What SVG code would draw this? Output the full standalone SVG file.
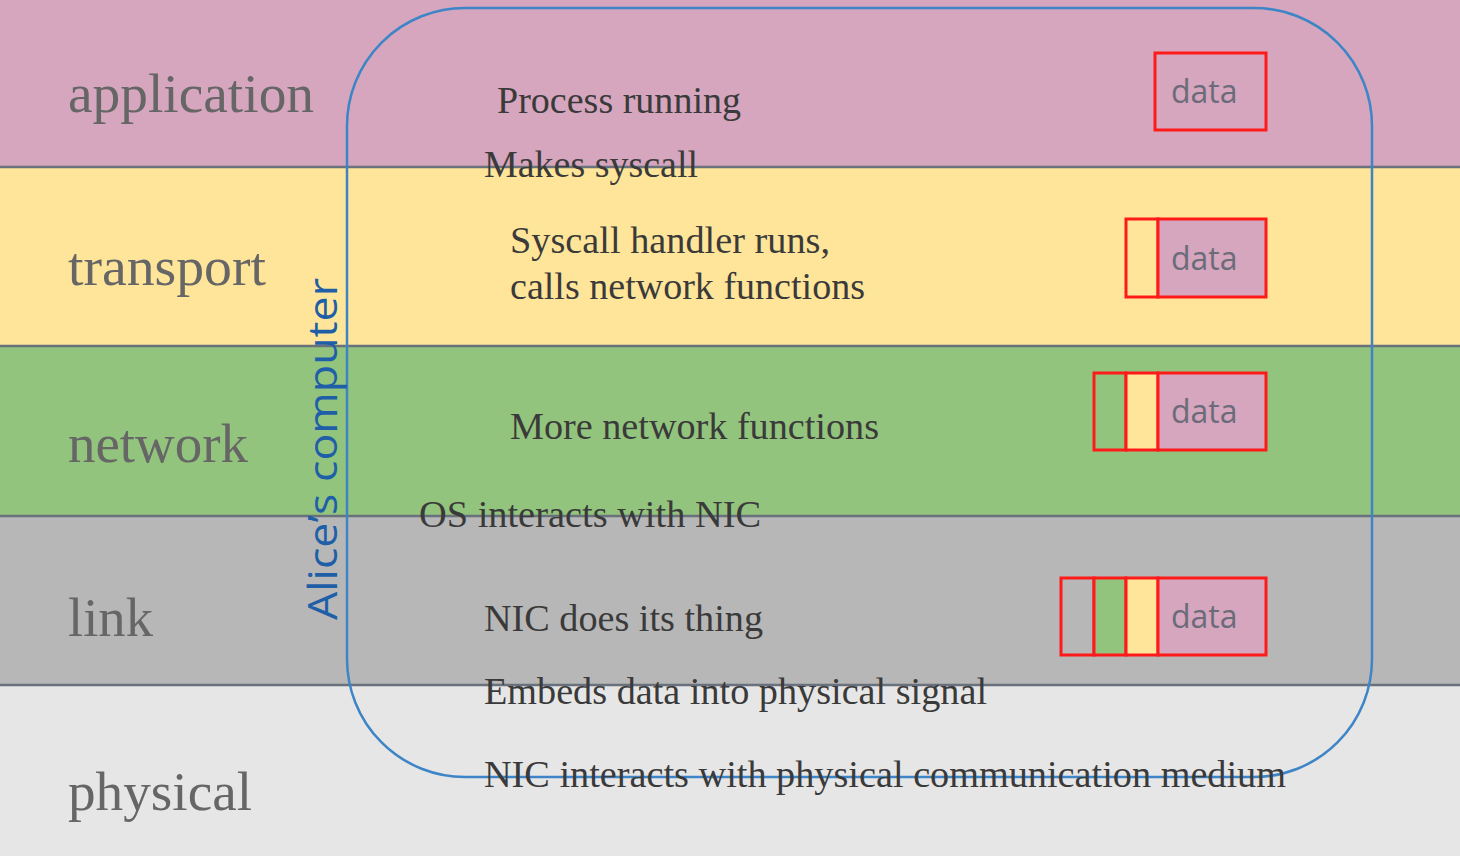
<svg xmlns="http://www.w3.org/2000/svg" width="1460" height="856" viewBox="0 0 1460 856">
<style>
.layer{font-family:"Liberation Serif",serif;font-size:55px;fill:#666666}
.step{font-family:"Liberation Serif",serif;font-size:37px;fill:#3a3a3a}
.data{font-family:"Open Sans","Liberation Sans",sans-serif;font-size:32px;fill:#6b6b7a}
.box{stroke:#ff1a1a;stroke-width:3}
.sep{stroke:#69727c;stroke-width:2.5}
</style>
<g id="bands">
<rect x="0" y="0" width="1460" height="167" fill="#d5a6bd"/>
<rect x="0" y="167" width="1460" height="179" fill="#ffe599"/>
<rect x="0" y="346" width="1460" height="170" fill="#93c47d"/>
<rect x="0" y="516" width="1460" height="169" fill="#b7b7b7"/>
<rect x="0" y="685" width="1460" height="171" fill="#e6e6e6"/>
<line class="sep" x1="0" y1="167" x2="1460" y2="167" stroke="#7f8a80"/>
<line class="sep" x1="0" y1="346" x2="1460" y2="346"/>
<line class="sep" x1="0" y1="516" x2="1460" y2="516"/>
<line class="sep" x1="0" y1="685" x2="1460" y2="685"/>
</g>
<g id="layer-labels">
<text class="layer" x="68" y="112" textLength="246" lengthAdjust="spacingAndGlyphs">application</text>
<text class="layer" x="68" y="285" textLength="198" lengthAdjust="spacingAndGlyphs">transport</text>
<text class="layer" x="68" y="462" textLength="180" lengthAdjust="spacingAndGlyphs">network</text>
<text class="layer" x="68" y="636" textLength="85" lengthAdjust="spacingAndGlyphs">link</text>
<text class="layer" x="68" y="810" textLength="184" lengthAdjust="spacingAndGlyphs">physical</text>
</g>
<g id="alice-computer">
<rect x="347" y="8" width="1025" height="769" rx="118" ry="118" fill="none" stroke="#3d85c6" stroke-width="2.5"/>
<text x="337" y="620" transform="rotate(-90 337 620)" font-family="'Open Sans','Liberation Sans',sans-serif" font-size="40" fill="#1f5fa8" textLength="342" lengthAdjust="spacingAndGlyphs">Alice’s computer</text>
</g>
<g id="steps">
<text class="step" x="497" y="113" textLength="244" lengthAdjust="spacingAndGlyphs">Process running</text>
<text class="step" x="484" y="177" textLength="214" lengthAdjust="spacingAndGlyphs">Makes syscall</text>
<text class="step" x="510" y="253" textLength="320" lengthAdjust="spacingAndGlyphs">Syscall handler runs,</text>
<text class="step" x="510" y="299" textLength="355" lengthAdjust="spacingAndGlyphs">calls network functions</text>
<text class="step" x="510" y="439" textLength="369" lengthAdjust="spacingAndGlyphs">More network functions</text>
<text class="step" x="419" y="527" textLength="342" lengthAdjust="spacingAndGlyphs">OS interacts with NIC</text>
<text class="step" x="484" y="631" textLength="279" lengthAdjust="spacingAndGlyphs">NIC does its thing</text>
<text class="step" x="484" y="704" textLength="503" lengthAdjust="spacingAndGlyphs">Embeds data into physical signal</text>
<text class="step" x="484" y="787" textLength="802" lengthAdjust="spacingAndGlyphs">NIC interacts with physical communication medium</text>
</g>
<g id="packet-application">
<rect class="box" x="1155" y="53" width="111" height="77" fill="#d5a6bd"/>
<text class="data" x="1171" y="103">data</text>
</g>
<g id="packet-transport">
<rect class="box" x="1126" y="219" width="32" height="78" fill="#ffe599"/>
<rect class="box" x="1158" y="219" width="108" height="78" fill="#d5a6bd"/>
<text class="data" x="1171" y="270">data</text>
</g>
<g id="packet-network">
<rect class="box" x="1094" y="373" width="32" height="77" fill="#93c47d"/>
<rect class="box" x="1126" y="373" width="32" height="77" fill="#ffe599"/>
<rect class="box" x="1158" y="373" width="108" height="77" fill="#d5a6bd"/>
<text class="data" x="1171" y="423">data</text>
</g>
<g id="packet-link">
<rect class="box" x="1061" y="578" width="33" height="77" fill="#b7b7b7"/>
<rect class="box" x="1094" y="578" width="32" height="77" fill="#93c47d"/>
<rect class="box" x="1126" y="578" width="32" height="77" fill="#ffe599"/>
<rect class="box" x="1158" y="578" width="108" height="77" fill="#d5a6bd"/>
<text class="data" x="1171" y="628">data</text>
</g>
</svg>
